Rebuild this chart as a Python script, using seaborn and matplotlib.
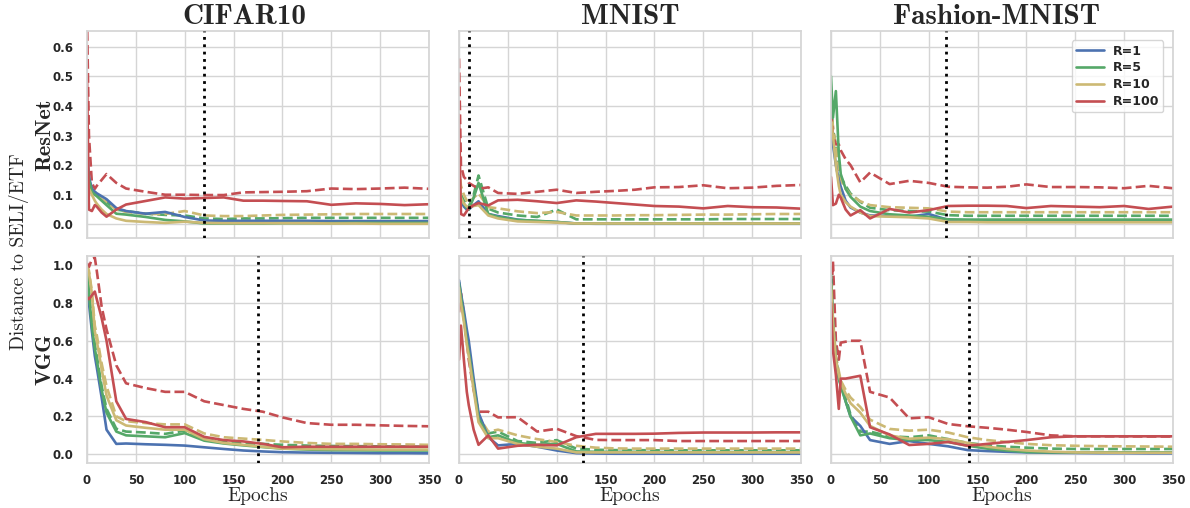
import matplotlib
matplotlib.use("Agg")
import matplotlib.pyplot as plt
from matplotlib.lines import Line2D
import seaborn as sns

# Epochs at which the distances were logged
EPOCHS = [0, 2, 5, 8, 10, 15, 20, 30, 40, 60, 80, 100, 120, 140, 160, 180, 200, 225, 250, 275, 300, 325, 350]

DATASETS = ["CIFAR10", "MNIST", "Fashion-MNIST"]
MODELS = ["ResNet", "VGG"]
RATIOS = ["R=1", "R=5", "R=10", "R=100"]

# Epoch at which training reaches zero error (dotted marker), per model row / dataset column
TPT_RESNET = [120, 10, 118]
TPT_VGG = [175, 127, 141]

# ---------------- ResNet / CIFAR10 ----------------
cifar_resnet_r1 = [0.25, 0.16, 0.12, 0.11, 0.105, 0.095, 0.085, 0.055, 0.045, 0.036, 0.042, 0.025, 0.013, 0.012, 0.012, 0.012, 0.012, 0.012, 0.011, 0.011, 0.011, 0.011, 0.011]
cifar_resnet_r5 = [0.22, 0.15, 0.11, 0.10, 0.095, 0.08, 0.065, 0.036, 0.033, 0.025, 0.015, 0.01, 0.003, 0.003, 0.003, 0.003, 0.004, 0.004, 0.004, 0.005, 0.005, 0.005, 0.005]
cifar_resnet_r5_h = [0.20, 0.15, 0.12, 0.11, 0.10, 0.085, 0.075, 0.05, 0.045, 0.036, 0.032, 0.03, 0.02, 0.018, 0.02, 0.02, 0.021, 0.022, 0.022, 0.022, 0.022, 0.022, 0.022]
cifar_resnet_r10 = [0.15, 0.12, 0.10, 0.08, 0.07, 0.05, 0.035, 0.02, 0.012, 0.008, 0.005, 0.009, 0.005, 0.004, 0.004, 0.004, 0.004, 0.004, 0.003, 0.003, 0.002, 0.002, 0.002]
cifar_resnet_r10_h = [0.22, 0.15, 0.11, 0.10, 0.095, 0.085, 0.075, 0.05, 0.042, 0.035, 0.035, 0.045, 0.03, 0.028, 0.028, 0.03, 0.032, 0.033, 0.034, 0.035, 0.035, 0.035, 0.035]
cifar_resnet_r100 = [0.50, 0.05, 0.045, 0.065, 0.06, 0.04, 0.026, 0.05, 0.067, 0.079, 0.091, 0.087, 0.089, 0.091, 0.08, 0.08, 0.079, 0.078, 0.066, 0.071, 0.069, 0.065, 0.068]
cifar_resnet_r100_h = [0.70, 0.30, 0.14, 0.12, 0.13, 0.15, 0.17, 0.14, 0.121, 0.11, 0.10, 0.10, 0.099, 0.099, 0.108, 0.109, 0.11, 0.112, 0.121, 0.119, 0.121, 0.124, 0.12]

# ---------------- ResNet / MNIST ----------------
mnist_resnet_r1 = [0.14, 0.08, 0.06, 0.05, 0.05, 0.065, 0.078, 0.035, 0.028, 0.016, 0.011, 0.008, 0.003, 0.002, 0.002, 0.002, 0.002, 0.002, 0.002, 0.002, 0.002, 0.002, 0.002]
mnist_resnet_r5 = [0.12, 0.09, 0.07, 0.055, 0.05, 0.09, 0.14, 0.035, 0.025, 0.015, 0.012, 0.008, 0.003, 0.003, 0.003, 0.003, 0.003, 0.003, 0.003, 0.003, 0.003, 0.003, 0.003]
mnist_resnet_r5_h = [0.15, 0.10, 0.08, 0.065, 0.06, 0.10, 0.165, 0.053, 0.04, 0.03, 0.025, 0.05, 0.017, 0.017, 0.017, 0.017, 0.017, 0.017, 0.017, 0.018, 0.018, 0.018, 0.018]
mnist_resnet_r10 = [0.16, 0.09, 0.07, 0.06, 0.058, 0.062, 0.065, 0.03, 0.02, 0.01, 0.008, 0.006, 0.003, 0.003, 0.003, 0.003, 0.003, 0.003, 0.003, 0.003, 0.003, 0.003, 0.003]
mnist_resnet_r10_h = [0.20, 0.13, 0.10, 0.08, 0.07, 0.09, 0.105, 0.058, 0.054, 0.044, 0.038, 0.042, 0.03, 0.03, 0.03, 0.031, 0.031, 0.032, 0.033, 0.033, 0.034, 0.035, 0.035]
mnist_resnet_r100 = [0.37, 0.035, 0.03, 0.045, 0.055, 0.065, 0.072, 0.064, 0.081, 0.083, 0.078, 0.072, 0.081, 0.077, 0.072, 0.067, 0.062, 0.06, 0.054, 0.062, 0.058, 0.057, 0.053]
mnist_resnet_r100_h = [0.56, 0.20, 0.16, 0.15, 0.14, 0.13, 0.12, 0.125, 0.106, 0.103, 0.11, 0.117, 0.106, 0.11, 0.113, 0.117, 0.125, 0.126, 0.132, 0.122, 0.124, 0.13, 0.133]

# ---------------- ResNet / Fashion-MNIST ----------------
fashion_resnet_r1 = [0.30, 0.27, 0.20, 0.15, 0.127, 0.08, 0.057, 0.04, 0.03, 0.028, 0.026, 0.035, 0.015, 0.014, 0.014, 0.014, 0.014, 0.014, 0.013, 0.013, 0.013, 0.013, 0.013]
fashion_resnet_r5 = [0.50, 0.36, 0.45, 0.24, 0.17, 0.12, 0.093, 0.06, 0.045, 0.034, 0.03, 0.025, 0.017, 0.016, 0.016, 0.016, 0.016, 0.016, 0.016, 0.016, 0.016, 0.016, 0.016]
fashion_resnet_r5_h = [0.45, 0.32, 0.27, 0.20, 0.16, 0.13, 0.104, 0.076, 0.056, 0.048, 0.045, 0.043, 0.031, 0.029, 0.029, 0.029, 0.029, 0.029, 0.029, 0.029, 0.029, 0.029, 0.029]
fashion_resnet_r10 = [0.35, 0.30, 0.20, 0.13, 0.10, 0.075, 0.06, 0.04, 0.028, 0.026, 0.024, 0.02, 0.008, 0.008, 0.007, 0.007, 0.007, 0.007, 0.007, 0.007, 0.007, 0.007, 0.007]
fashion_resnet_r10_h = [0.40, 0.33, 0.26, 0.19, 0.15, 0.12, 0.10, 0.078, 0.065, 0.058, 0.056, 0.054, 0.043, 0.041, 0.041, 0.041, 0.041, 0.041, 0.041, 0.041, 0.041, 0.041, 0.041]
fashion_resnet_r100 = [0.16, 0.065, 0.07, 0.10, 0.09, 0.05, 0.03, 0.048, 0.02, 0.052, 0.04, 0.048, 0.062, 0.063, 0.063, 0.062, 0.055, 0.062, 0.06, 0.058, 0.062, 0.052, 0.06]
fashion_resnet_r100_h = [0.38, 0.30, 0.27, 0.27, 0.25, 0.22, 0.20, 0.142, 0.175, 0.136, 0.147, 0.14, 0.127, 0.125, 0.124, 0.127, 0.135, 0.126, 0.126, 0.125, 0.122, 0.13, 0.122]

# ---------------- VGG / CIFAR10 ----------------
cifar_vgg_r1 = [0.93, 0.80, 0.65, 0.52, 0.46, 0.30, 0.13, 0.055, 0.057, 0.053, 0.05, 0.046, 0.037, 0.028, 0.02, 0.015, 0.011, 0.009, 0.008, 0.007, 0.006, 0.006, 0.005]
cifar_vgg_r5 = [0.97, 0.85, 0.68, 0.56, 0.50, 0.34, 0.22, 0.12, 0.10, 0.095, 0.09, 0.112, 0.072, 0.057, 0.047, 0.038, 0.03, 0.025, 0.022, 0.021, 0.02, 0.02, 0.02]
cifar_vgg_r5_h = [0.97, 0.86, 0.70, 0.58, 0.52, 0.36, 0.24, 0.135, 0.12, 0.115, 0.108, 0.125, 0.08, 0.066, 0.06, 0.055, 0.05, 0.046, 0.044, 0.043, 0.042, 0.041, 0.04]
cifar_vgg_r10 = [0.99, 0.96, 0.85, 0.65, 0.60, 0.45, 0.31, 0.18, 0.152, 0.14, 0.13, 0.13, 0.08, 0.06, 0.05, 0.04, 0.03, 0.028, 0.027, 0.026, 0.025, 0.025, 0.025]
cifar_vgg_r10_h = [1.00, 0.97, 0.86, 0.68, 0.63, 0.48, 0.36, 0.20, 0.175, 0.165, 0.158, 0.158, 0.11, 0.09, 0.083, 0.076, 0.068, 0.06, 0.055, 0.055, 0.053, 0.052, 0.05]
cifar_vgg_r100 = [0.83, 0.82, 0.84, 0.86, 0.82, 0.72, 0.60, 0.28, 0.187, 0.17, 0.143, 0.143, 0.092, 0.075, 0.068, 0.055, 0.037, 0.04, 0.04, 0.04, 0.04, 0.04, 0.04]
cifar_vgg_r100_h = [1.01, 0.99, 1.03, 1.04, 0.97, 0.78, 0.66, 0.47, 0.375, 0.35, 0.33, 0.33, 0.28, 0.26, 0.24, 0.225, 0.195, 0.165, 0.156, 0.156, 0.153, 0.15, 0.148]

# ---------------- VGG / MNIST ----------------
mnist_vgg_r1 = [0.92, 0.85, 0.76, 0.66, 0.60, 0.40, 0.22, 0.09, 0.047, 0.055, 0.04, 0.02, 0.006, 0.004, 0.003, 0.003, 0.003, 0.003, 0.003, 0.003, 0.003, 0.003, 0.003]
mnist_vgg_r5 = [0.90, 0.83, 0.72, 0.60, 0.54, 0.36, 0.19, 0.09, 0.10, 0.06, 0.05, 0.055, 0.015, 0.013, 0.013, 0.013, 0.012, 0.012, 0.012, 0.012, 0.012, 0.012, 0.012]
mnist_vgg_r5_h = [0.91, 0.84, 0.74, 0.62, 0.56, 0.38, 0.20, 0.11, 0.12, 0.07, 0.06, 0.075, 0.03, 0.024, 0.022, 0.022, 0.021, 0.021, 0.021, 0.021, 0.021, 0.021, 0.021]
mnist_vgg_r10 = [0.88, 0.80, 0.70, 0.58, 0.52, 0.34, 0.17, 0.085, 0.085, 0.055, 0.04, 0.03, 0.01, 0.01, 0.01, 0.01, 0.01, 0.01, 0.01, 0.01, 0.01, 0.01, 0.01]
mnist_vgg_r10_h = [0.88, 0.82, 0.72, 0.60, 0.55, 0.38, 0.20, 0.12, 0.13, 0.10, 0.08, 0.065, 0.045, 0.035, 0.031, 0.03, 0.03, 0.03, 0.03, 0.03, 0.03, 0.03, 0.03]
mnist_vgg_r100 = [0.50, 0.68, 0.50, 0.33, 0.26, 0.13, 0.05, 0.10, 0.03, 0.045, 0.05, 0.047, 0.09, 0.108, 0.108, 0.108, 0.109, 0.113, 0.115, 0.115, 0.115, 0.116, 0.116]
mnist_vgg_r100_h = [0.75, 0.85, 0.75, 0.60, 0.50, 0.34, 0.225, 0.225, 0.195, 0.196, 0.12, 0.135, 0.096, 0.076, 0.075, 0.075, 0.075, 0.07, 0.07, 0.07, 0.07, 0.07, 0.07]

# ---------------- VGG / Fashion-MNIST ----------------
fashion_vgg_r1 = [0.93, 0.70, 0.50, 0.40, 0.37, 0.28, 0.20, 0.15, 0.075, 0.055, 0.07, 0.055, 0.042, 0.022, 0.017, 0.013, 0.01, 0.008, 0.007, 0.006, 0.006, 0.005, 0.005]
fashion_vgg_r5 = [0.95, 0.70, 0.50, 0.40, 0.36, 0.28, 0.20, 0.10, 0.11, 0.085, 0.075, 0.075, 0.065, 0.045, 0.03, 0.02, 0.012, 0.01, 0.01, 0.01, 0.01, 0.01, 0.01]
fashion_vgg_r5_h = [0.92, 0.70, 0.50, 0.42, 0.38, 0.30, 0.21, 0.12, 0.12, 0.095, 0.09, 0.10, 0.08, 0.06, 0.048, 0.04, 0.035, 0.03, 0.028, 0.028, 0.028, 0.028, 0.028]
fashion_vgg_r10 = [0.90, 0.70, 0.50, 0.42, 0.38, 0.32, 0.27, 0.22, 0.15, 0.10, 0.082, 0.088, 0.08, 0.06, 0.04, 0.028, 0.02, 0.014, 0.01, 0.009, 0.008, 0.008, 0.008]
fashion_vgg_r10_h = [0.90, 0.72, 0.52, 0.44, 0.39, 0.34, 0.30, 0.25, 0.183, 0.134, 0.125, 0.13, 0.115, 0.09, 0.075, 0.065, 0.055, 0.048, 0.045, 0.043, 0.042, 0.041, 0.04]
fashion_vgg_r100 = [0.80, 0.55, 0.42, 0.24, 0.40, 0.40, 0.405, 0.415, 0.143, 0.105, 0.049, 0.055, 0.065, 0.045, 0.055, 0.065, 0.075, 0.09, 0.095, 0.095, 0.095, 0.095, 0.095]
fashion_vgg_r100_h = [0.80, 1.02, 0.60, 0.50, 0.59, 0.595, 0.60, 0.60, 0.33, 0.30, 0.19, 0.196, 0.16, 0.148, 0.14, 0.13, 0.118, 0.10, 0.095, 0.095, 0.095, 0.094, 0.094]

# Panel contents: (solid series per ratio, dashed series per ratio; None = not drawn)
PANELS = {
    ("ResNet", "CIFAR10"): ([cifar_resnet_r1, cifar_resnet_r5, cifar_resnet_r10, cifar_resnet_r100],
                            [None, cifar_resnet_r5_h, cifar_resnet_r10_h, cifar_resnet_r100_h]),
    ("ResNet", "MNIST"): ([mnist_resnet_r1, mnist_resnet_r5, mnist_resnet_r10, mnist_resnet_r100],
                          [None, mnist_resnet_r5_h, mnist_resnet_r10_h, mnist_resnet_r100_h]),
    ("ResNet", "Fashion-MNIST"): ([fashion_resnet_r1, fashion_resnet_r5, fashion_resnet_r10, fashion_resnet_r100],
                                  [None, fashion_resnet_r5_h, fashion_resnet_r10_h, fashion_resnet_r100_h]),
    ("VGG", "CIFAR10"): ([cifar_vgg_r1, cifar_vgg_r5, cifar_vgg_r10, cifar_vgg_r100],
                         [None, cifar_vgg_r5_h, cifar_vgg_r10_h, cifar_vgg_r100_h]),
    ("VGG", "MNIST"): ([mnist_vgg_r1, mnist_vgg_r5, mnist_vgg_r10, mnist_vgg_r100],
                       [None, mnist_vgg_r5_h, mnist_vgg_r10_h, mnist_vgg_r100_h]),
    ("VGG", "Fashion-MNIST"): ([fashion_vgg_r1, fashion_vgg_r5, fashion_vgg_r10, fashion_vgg_r100],
                               [None, fashion_vgg_r5_h, fashion_vgg_r10_h, fashion_vgg_r100_h]),
}

# Horizontal anchor of each column title (axes fraction)
TITLE_X = [0.46, 0.5, 0.485]

sns.set_theme(style="whitegrid")
plt.rcParams["font.family"] = ["DejaVu Sans"]
pal = sns.color_palette("deep")
COLORS = [pal[0], pal[2], pal[8], pal[3]]

fig, axes = plt.subplots(2, 3, figsize=(11.9, 5.08), dpi=100, sharex=True, sharey="row")
fig.subplots_adjust(left=0.0731, right=0.9857, bottom=0.0886, top=0.939, wspace=0.0877, hspace=0.087)

LW = 1.9
for r, model in enumerate(MODELS):
    for c, ds in enumerate(DATASETS):
        ax = axes[r, c]
        solid, dashed = PANELS[(model, ds)]
        for k in range(len(RATIOS)):
            if dashed[k] is not None:
                sns.lineplot(x=EPOCHS, y=dashed[k], ax=ax, color=COLORS[k], lw=LW, linestyle="--")
        for k in range(len(RATIOS)):
            sns.lineplot(x=EPOCHS, y=solid[k], ax=ax, color=COLORS[k], lw=LW)
        marker = (TPT_RESNET if model == "ResNet" else TPT_VGG)[c]
        ax.axvline(marker, color="black", linestyle=":", lw=2.0, zorder=5)

        ax.set_xlim(0, 350)
        if model == "ResNet":
            ax.set_ylim(-0.046, 0.653)
            ax.set_yticks([0.0, 0.1, 0.2, 0.3, 0.4, 0.5, 0.6])
        else:
            ax.set_ylim(-0.046, 1.048)
            ax.set_yticks([0.0, 0.2, 0.4, 0.6, 0.8, 1.0])
        ax.set_xticks([0, 50, 100, 150, 200, 250, 300, 350])
        ax.tick_params(axis="y", labelsize=8.5, pad=4, colors=".15")
        ax.tick_params(axis="x", labelsize=8.5, pad=2, colors=".15")
        for lab in ax.get_xticklabels() + ax.get_yticklabels():
            lab.set_fontweight("bold")
        for sp in ax.spines.values():
            sp.set_color("#d5d5d5")
        ax.grid(color="#d5d5d5", lw=1.0)
        ax.set_xlabel("")
        ax.set_ylabel("")

        if r == 0:
            ax.set_title(ds, fontsize=21, fontfamily="cmb10", pad=5, x=TITLE_X[c])
        if r == 1:
            ax.set_xlabel("Epochs", fontsize=14, fontfamily="cmr10", va="top")
            ax.xaxis.set_label_coords(0.5, -0.117)
        if c == 0:
            ax.set_ylabel(model, fontsize=16, fontfamily="cmb10")
            ax.yaxis.set_label_coords(-0.096, 0.5)

fig.text(0.016, 0.505, "Distance to SELI/ETF", rotation=90, ha="center", va="center",
         fontsize=14, fontfamily="cmr10")

handles = [Line2D([0], [0], color=COLORS[k], lw=LW) for k in range(len(RATIOS))]
leg = axes[0, 2].legend(handles, RATIOS, loc="upper right", frameon=True,
                        prop={"weight": "bold", "size": 9}, borderpad=0.35, labelspacing=0.3,
                        handlelength=2.2, handletextpad=0.7, bbox_to_anchor=(0.99, 0.985))
leg.get_frame().set_edgecolor("#cccccc")

fig.savefig("out.png", dpi=100)
